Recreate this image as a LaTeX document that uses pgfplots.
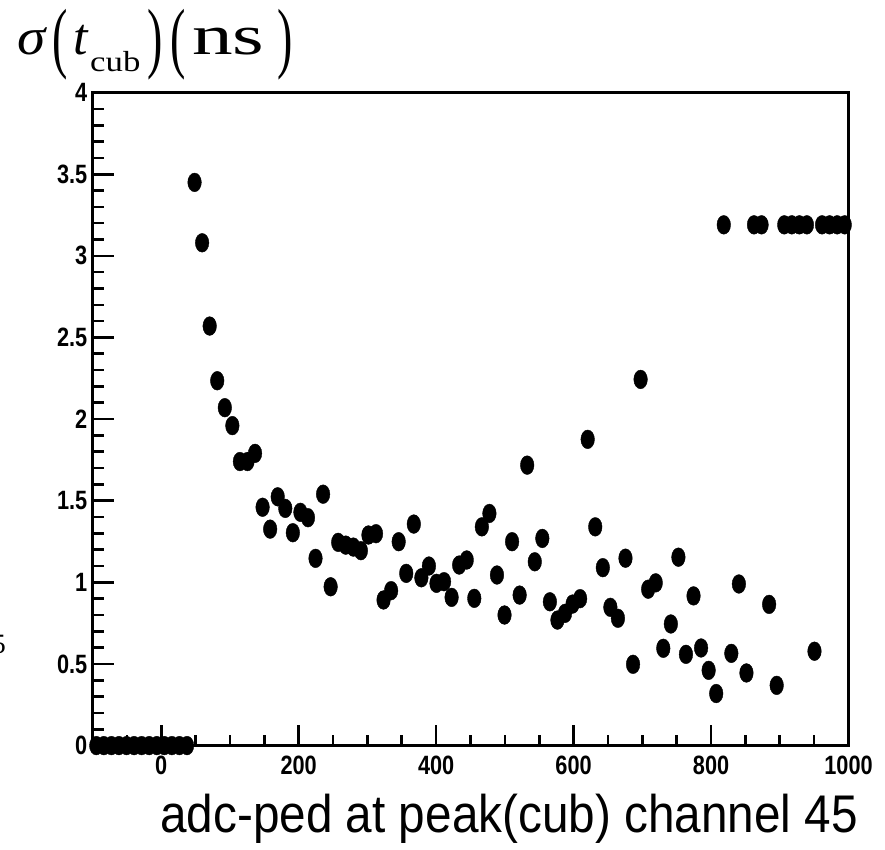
\documentclass[border=0pt]{standalone}
\usepackage{pgfplots}
\pgfplotsset{compat=1.18}
\usepackage{fontspec}
\setmainfont{Liberation Sans}
\newfontfamily\tkf[FakeStretch=0.82]{Liberation Sans}
\newfontfamily\lblf[FakeStretch=0.9]{Liberation Sans}
\newfontfamily\tms{Liberation Serif}
\pgfplotstableread{
x y
-94.5 0
-83.5 0
-72.5 0
-61.5 0
-50.5 0
-39.5 0
-28.5 0
-17.5 0
-6.5 0
4.5 0
15.5 0
26.5 0
37.5 0
48.5 3.45
59.5 3.08
70.5 2.57
81.5 2.235
92.5 2.07
103.5 1.96
114.5 1.74
125.5 1.74
136.5 1.79
147.5 1.46
158.5 1.326
169.5 1.524
180.5 1.453
191.5 1.304
202.5 1.429
213.5 1.396
224.5 1.147
235.5 1.54
246.5 0.973
257.5 1.245
268.5 1.228
279.5 1.216
290.5 1.194
301.5 1.29
312.5 1.298
323.5 0.892
334.5 0.949
345.5 1.249
356.5 1.055
367.5 1.357
378.5 1.028
389.5 1.10
400.5 0.994
411.5 1.004
422.5 0.908
433.5 1.106
444.5 1.137
455.5 0.902
466.5 1.34
477.5 1.422
488.5 1.045
499.5 0.80
510.5 1.249
521.5 0.922
532.5 1.718
543.5 1.126
554.5 1.269
565.5 0.881
576.5 0.769
587.5 0.81
598.5 0.867
609.5 0.90
620.5 1.876
631.5 1.34
642.5 1.09
653.5 0.847
664.5 0.78
675.5 1.148
686.5 0.498
697.5 2.243
708.5 0.958
719.5 0.997
730.5 0.596
741.5 0.745
752.5 1.154
763.5 0.559
774.5 0.917
785.5 0.598
796.5 0.461
807.5 0.319
818.5 3.19
829.5 0.565
840.5 0.99
851.5 0.445
862.5 3.19
873.5 3.19
884.5 0.865
895.5 0.369
906.5 3.19
917.5 3.19
928.5 3.19
939.5 3.19
950.5 0.578
961.5 3.19
972.5 3.19
983.5 3.19
994.5 3.19
}\sigdata
\begin{document}
\begin{tikzpicture}
\useasboundingbox (0pt,0pt) rectangle (885pt,849pt);
\begin{axis}[
  scale only axis,
  width=756pt, height=653pt,
  at={(92.5pt,103.4pt)}, anchor=south west,
  xmin=-100, xmax=1000, ymin=0, ymax=4,
  xtick={-200,0,200,400,600,800,1000},
  minor x tick num=3,
  ytick={0,0.5,1,1.5,2,2.5,3,3.5,4},
  minor y tick num=4,
  tick align=inside,
  xtick pos=lower, ytick pos=left,
  major tick length=21pt, minor tick length=11pt,
  axis line style={line width=3pt},
  every tick/.style={black, line width=2.6pt},
  /pgf/number format/assume math mode=true,
  /pgf/number format/1000 sep={},
  tick label style={font=\fontsize{26.5}{26.5}\tkf\bfseries},
  yticklabel style={anchor=east, inner sep=0pt, xshift=-5pt},
  xticklabel style={anchor=north, inner sep=0pt, yshift=-10pt},
  clip=false,
]
\addplot[only marks, mark=*, mark size=6.8pt, black,
  mark options={yscale=1.38, fill=black, draw=black}] table[x=x,y=y] {\sigdata};
\end{axis}
% title pieces
\node[anchor=base west, inner sep=0pt] at (17pt,794pt) {\scalebox{1.1}[1]{\fontsize{52}{52}\tms\itshape σ}};
\node[anchor=center, inner sep=0pt] at (60pt,804pt) {\scalebox{1}[1.7]{\fontsize{46}{46}\tms (}};
\node[anchor=base west, inner sep=0pt] at (73pt,794pt) {\fontsize{52}{52}\tms\itshape t};
\node[anchor=base west, inner sep=0pt] at (90pt,777pt) {\scalebox{1.2}[1]{\fontsize{29}{29}\tms cub}};
\node[anchor=center, inner sep=0pt] at (155pt,804pt) {\scalebox{1}[1.7]{\fontsize{46}{46}\tms )}};
\node[anchor=center, inner sep=0pt] at (178pt,804pt) {\scalebox{1}[1.7]{\fontsize{46}{46}\tms (}};
\node[anchor=base west, inner sep=0pt] at (192pt,794pt) {\scalebox{1.45}[1]{\fontsize{56}{56}\tms ns}};
\node[anchor=center, inner sep=0pt] at (285pt,804pt) {\scalebox{1}[1.7]{\fontsize{46}{46}\tms )}};
% x label
\node[anchor=base east, inner sep=0pt] at (858pt,17pt) {\fontsize{53}{53}\lblf adc-ped at peak(cub) channel 45};
% stray fragment at left edge
\node[anchor=base east, inner sep=0pt] at (6pt,196pt) {\fontsize{28}{28}\tms 5};
\end{tikzpicture}
\end{document}
